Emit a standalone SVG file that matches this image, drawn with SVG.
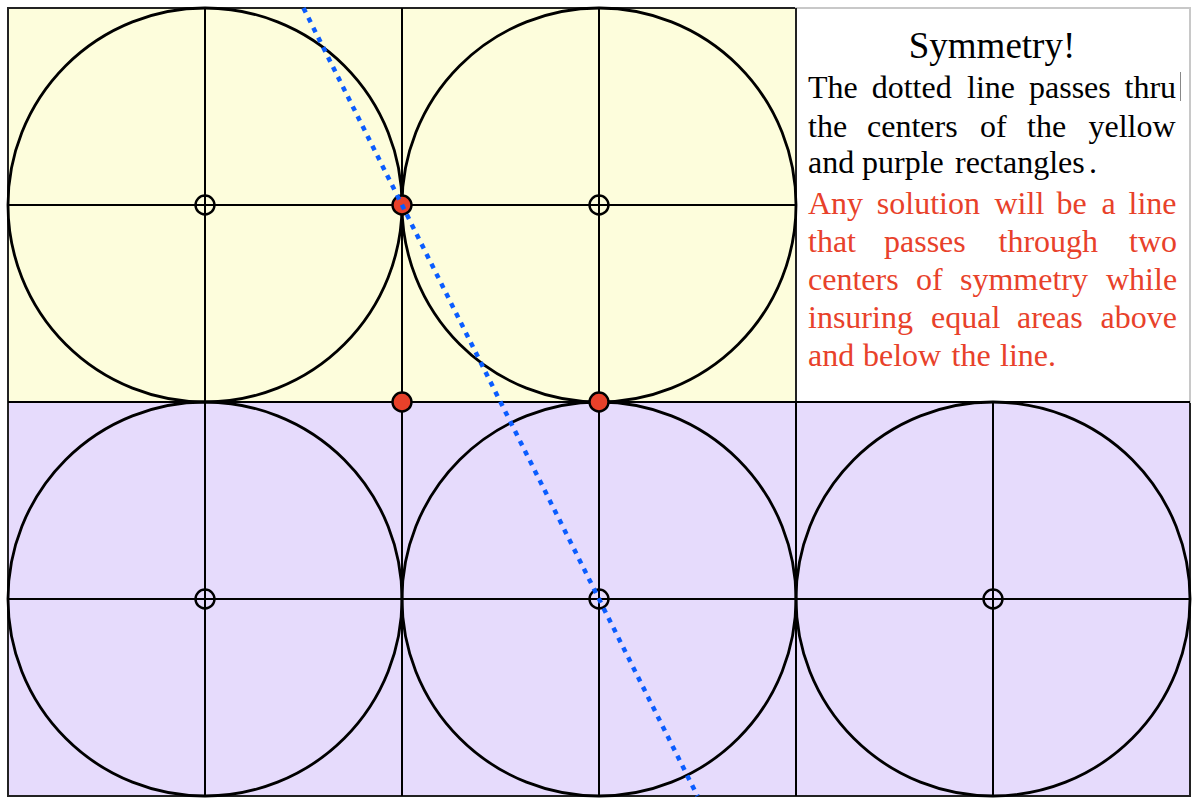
<svg xmlns="http://www.w3.org/2000/svg" width="1200" height="804" viewBox="0 0 1200 804">
<style>
.ln{stroke:#000;stroke-width:2;fill:none}
.big{stroke:#000;stroke-width:2.8;fill:none}
.oc{stroke:#000;stroke-width:2.4;fill:none}
.rd{fill:#e8412a;stroke:#000;stroke-width:2.4}
.t{font-family:"Liberation Serif","Times New Roman",serif;font-size:32px;fill:#000}
.ttl{font-size:37px}
.r{fill:#e8412a}
</style>
<rect width="1200" height="804" fill="#fff"/>
<g id="yellow">
<rect x="8" y="8" width="788" height="394" fill="#fdfddc" stroke="#222" stroke-width="2"/>
</g>
<g id="purple">
<rect x="8" y="402" width="1182" height="394" fill="#e6dbfc" stroke="#222" stroke-width="2"/>
</g>
<g id="textbox">
<rect x="796" y="8" width="394" height="394" fill="#fff" stroke="#c8c8c8" stroke-width="2"/>
<line x1="796" y1="8" x2="796" y2="402" stroke="#222" stroke-width="2"/>
<text class="t ttl" x="992" y="58" text-anchor="middle">Symmetry!</text>
<text class="t" y="98"><tspan x="808">The</tspan><tspan x="871.7">dotted</tspan><tspan x="967">line</tspan><tspan x="1029">passes</tspan><tspan x="1124.5">thru</tspan></text>
<line x1="1180.5" y1="72" x2="1180.5" y2="101" stroke="#888" stroke-width="1"/>
<text class="t" y="137"><tspan x="808">the</tspan><tspan x="867">centers</tspan><tspan x="980">of</tspan><tspan x="1027">the</tspan><tspan x="1088.5">yellow</tspan></text>
<text class="t" y="173"><tspan x="808">and</tspan><tspan x="862">purple</tspan><tspan x="955">rectangles</tspan><tspan x="1089">.</tspan></text>
<text class="t r" y="214"><tspan x="808">Any</tspan><tspan x="876.8">solution</tspan><tspan x="994.5">will</tspan><tspan x="1056.5">be</tspan><tspan x="1101.5">a</tspan><tspan x="1128.5">line</tspan></text>
<text class="t r" y="252"><tspan x="808">that</tspan><tspan x="884">passes</tspan><tspan x="998.5">through</tspan><tspan x="1129">two</tspan></text>
<text class="t r" y="290"><tspan x="808">centers</tspan><tspan x="916">of</tspan><tspan x="960">symmetry</tspan><tspan x="1106">while</tspan></text>
<text class="t r" y="328"><tspan x="808">insuring</tspan><tspan x="931">equal</tspan><tspan x="1017">areas</tspan><tspan x="1100.5">above</tspan></text>
<text class="t r" y="366"><tspan x="808">and</tspan><tspan x="863">below</tspan><tspan x="951.5">the</tspan><tspan x="1000">line.</tspan></text>
</g>
<g id="grid">
<line class="ln" x1="8" y1="205" x2="796" y2="205"/>
<line class="ln" x1="8" y1="402" x2="1190" y2="402"/>
<line class="ln" x1="8" y1="599" x2="1190" y2="599"/>
<line class="ln" x1="205" y1="8" x2="205" y2="796"/>
<line class="ln" x1="402" y1="8" x2="402" y2="796"/>
<line class="ln" x1="599" y1="8" x2="599" y2="796"/>
<line class="ln" x1="796" y1="402" x2="796" y2="796"/>
<line class="ln" x1="993" y1="402" x2="993" y2="796"/>
</g>
<g id="circles">
<circle class="big" cx="205" cy="205" r="197"/>
<circle class="big" cx="599" cy="205" r="197"/>
<circle class="big" cx="205" cy="599" r="197"/>
<circle class="big" cx="599" cy="599" r="197"/>
<circle class="big" cx="993" cy="599" r="197"/>
</g>
<g id="centers">
<circle class="oc" cx="205" cy="205" r="9.5"/>
<circle class="oc" cx="599" cy="205" r="9.5"/>
<circle class="oc" cx="205" cy="599" r="9.5"/>
<circle class="oc" cx="599" cy="599" r="9.5"/>
<circle class="oc" cx="993" cy="599" r="9.5"/>
</g>
<g id="red-points">
<circle class="rd" cx="402" cy="205" r="9.5"/>
<circle class="rd" cx="402" cy="402" r="9.5"/>
<circle class="rd" cx="599" cy="402" r="9.5"/>
</g>
<g id="connectors">
<line x1="303.5" y1="8" x2="697.5" y2="796" stroke="#0a5cff" stroke-width="4.5" stroke-dasharray="5 6"/>
</g>
</svg>
